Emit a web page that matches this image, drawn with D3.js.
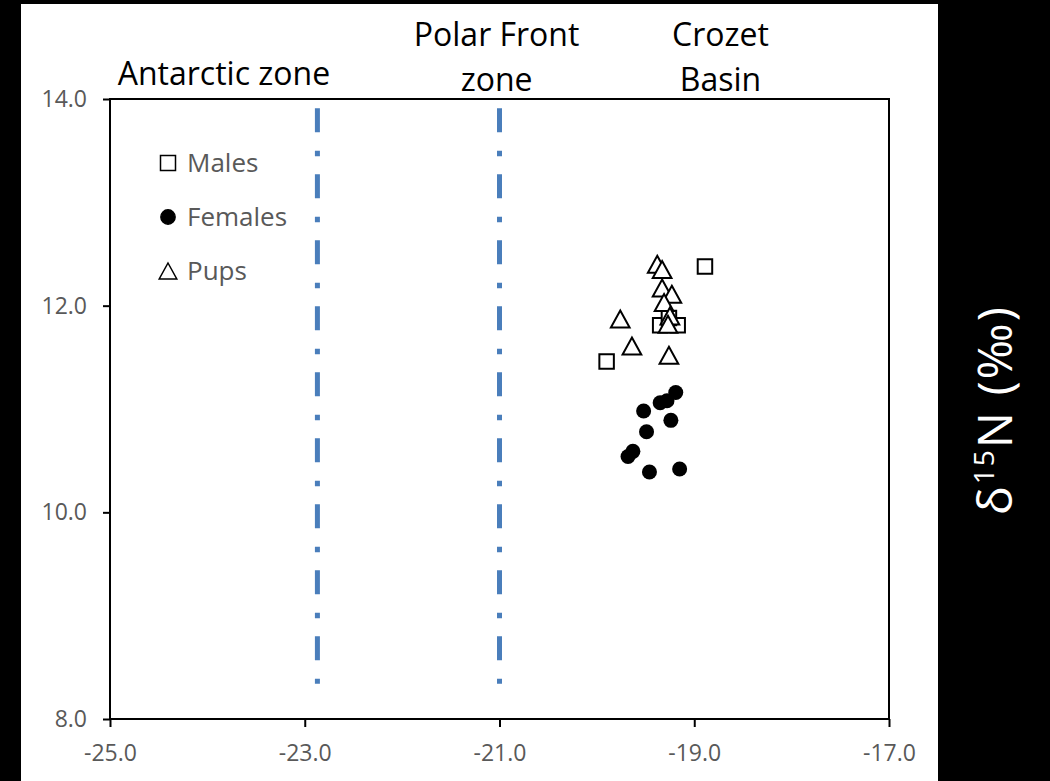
<!DOCTYPE html>
<html>
<head>
<meta charset="utf-8">
<script src="https://cdn.jsdelivr.net/npm/d3@7"></script>
<style>
    body { margin: 0; background: #000; }
    text { font-family: "Open Sans", sans-serif; }
</style>
</head>
<body>
<div id="chart"></div>
<script>

// Tick values
const xTicks = [-25, -23, -21, -19, -17];
const yTicks = [8, 10, 12, 14];

// Males (squares)
const malesX = [-18.89, -19.90, -19.35, -19.17, -19.26];
const malesY = [12.38, 11.46, 11.81, 11.81, 11.88];

// Females (filled circles)
const femalesX = [-19.19, -19.28, -19.35, -19.52, -19.24, -19.49, -19.63, -19.68, -19.46, -19.15];
const femalesY = [11.16, 11.08, 11.06, 10.98, 10.89, 10.78, 10.59, 10.54, 10.39, 10.42];

// Pups (open triangles)
const pupsX = [-19.38, -19.33, -19.33, -19.23, -19.31, -19.25, -19.27, -19.76, -19.64, -19.26];
const pupsY = [12.40, 12.35, 12.17, 12.11, 12.03, 11.90, 11.82, 11.87, 11.61, 11.52];

// Front boundaries (vertical dash-dot lines)
const frontX = [-22.87, -21.0];
const frontY = [8.34, 13.91];

// Zone labels, centred on an x value
const zoneNames = [["Antarctic zone"], ["Polar Front", "zone"], ["Crozet", "Basin"]];
const zoneCenters = [-23.83, -21.03, -18.73];

const legendNames = ["Males", "Females", "Pups"];


// triangle drawn around the centre of its bounding box
const boxTriangle = {
    draw(context, size) {
        let h = Math.sqrt(size);
        let w = h * 0.55;
        context.moveTo(0, -h / 2);
        context.lineTo(w, h / 2);
        context.lineTo(-w, h / 2);
        context.closePath();
    }
};

// excel style labels use a plain hyphen
let fmt = d => d3.format(".1f")(d).replace("\u2212", "-");


class scatterVis {

    constructor(parentElement) {
        this.parentElement = parentElement;
        this.initVis();
    }

    initVis() {
        let vis = this;

        vis.margin = {top: 99, right: 161, bottom: 62, left: 110};
        vis.width = 779;
        vis.height = 620;

        vis.root = d3.select("#" + vis.parentElement).append("svg")
            .attr("width", 1050)
            .attr("height", 781);

        // black page with white card
        vis.root.append("rect")
            .attr("width", 1050).attr("height", 781)
            .attr("fill", "#000");
        vis.root.append("rect")
            .attr("x", 21).attr("y", 4)
            .attr("width", 917).attr("height", 777)
            .attr("fill", "#fff");

        vis.svg = vis.root.append("g")
            .attr("transform", `translate(${vis.margin.left}, ${vis.margin.top})`);

        vis.x = d3.scaleLinear()
            .domain([-25, -17])
            .range([0, vis.width]);

        vis.y = d3.scaleLinear()
            .domain([8, 14])
            .range([vis.height, 0]);

        vis.xAxis = d3.axisBottom(vis.x)
            .tickValues(xTicks)
            .tickSize(8)
            .tickSizeOuter(0)
            .tickPadding(18)
            .tickFormat(fmt);

        vis.yAxis = d3.axisLeft(vis.y)
            .tickValues(yTicks)
            .tickSize(7)
            .tickSizeOuter(0)
            .tickPadding(16)
            .tickFormat(fmt);

        vis.svg.append("g")
            .attr("class", "x-axis axis")
            .attr("transform", "translate(0," + vis.height + ")")
            .call(vis.xAxis);

        vis.svg.append("g")
            .attr("class", "y-axis axis")
            .call(vis.yAxis);

        vis.svg.selectAll(".axis text")
            .attr("fill", "#595959")
            .style("font-size", "23px");
        vis.svg.selectAll(".axis line")
            .attr("stroke", "#000")
            .attr("stroke-width", 2);
        vis.svg.selectAll(".axis .domain").remove();

        // plot frame
        vis.svg.append("rect")
            .attr("width", vis.width)
            .attr("height", vis.height)
            .attr("fill", "none")
            .attr("stroke", "#000")
            .attr("stroke-width", 2);

        this.updateVis();
    }

    updateVis() {
        let vis = this;

        // front lines
        vis.svg.selectAll(".front")
            .data(frontX)
            .enter().append("line")
            .attr("class", "front")
            .attr("x1", d => vis.x(d))
            .attr("x2", d => vis.x(d))
            .attr("y1", vis.y(frontY[1]))
            .attr("y2", vis.y(frontY[0]))
            .attr("stroke", "#4A7EBB")
            .attr("stroke-width", 5)
            .attr("stroke-dasharray", "24,18.5,5.5,18");

        // zone labels above the frame
        let zones = vis.svg.selectAll(".zone")
            .data(zoneNames)
            .enter().append("text")
            .attr("class", "zone")
            .attr("text-anchor", "middle")
            .attr("fill", "#000")
            .style("font-size", "32px");

        zones.selectAll("tspan")
            .data((d, i) => d.map(t => ({t: t, i: i, n: d.length})))
            .enter().append("tspan")
            .attr("x", d => vis.x(zoneCenters[d.i]))
            .attr("y", (d, j) => d.n === 1 ? -14 : -53 + j * 45)
            .text(d => d.t);

        let males = malesX.map((d, i) => ({x: d, y: malesY[i]}));
        let females = femalesX.map((d, i) => ({x: d, y: femalesY[i]}));
        let pups = pupsX.map((d, i) => ({x: d, y: pupsY[i]}));

        vis.svg.selectAll(".male")
            .data(males)
            .enter().append("path")
            .attr("class", "male")
            .attr("transform", d => `translate(${vis.x(d.x)},${vis.y(d.y)})`)
            .attr("d", d3.symbol(d3.symbolSquare, 210))
            .attr("fill", "#fff")
            .attr("stroke", "#000")
            .attr("stroke-width", 2);

        vis.svg.selectAll(".female")
            .data(females)
            .enter().append("circle")
            .attr("class", "female")
            .attr("cx", d => vis.x(d.x))
            .attr("cy", d => vis.y(d.y))
            .attr("r", 7.5)
            .attr("fill", "#000");

        vis.svg.selectAll(".pup")
            .data(pups)
            .enter().append("path")
            .attr("class", "pup")
            .attr("transform", d => `translate(${vis.x(d.x)},${vis.y(d.y)})`)
            .attr("d", d3.symbol(boxTriangle, 289))
            .attr("fill", "#fff")
            .attr("stroke", "#000")
            .attr("stroke-width", 2);

        // legend
        let legend = vis.svg.append("g")
            .attr("transform", "translate(58, 64)");

        let rows = legend.selectAll(".legend-row")
            .data(legendNames)
            .enter().append("g")
            .attr("class", "legend-row")
            .attr("transform", (d, i) => `translate(0, ${i * 54})`);

        rows.append("path")
            .attr("d", (d, i) => i === 0 ? d3.symbol(d3.symbolSquare, 225)()
                : i === 1 ? d3.symbol(d3.symbolCircle, 160)()
                : d3.symbol(boxTriangle, 256)())
            .attr("fill", (d, i) => i === 1 ? "#000" : "#fff")
            .attr("stroke", "#000")
            .attr("stroke-width", 1.5);

        rows.append("text")
            .attr("x", 19)
            .attr("y", 9)
            .attr("fill", "#595959")
            .style("font-size", "26px")
            .text(d => d);

        // y-axis title on the dark strip
        let title = vis.root.append("text")
            .attr("transform", "translate(1012, 410) rotate(-90)")
            .attr("text-anchor", "middle")
            .attr("fill", "#fff")
            .style("font-size", "48px")
            .style("letter-spacing", "2px");
        title.append("tspan").text("δ");
        title.append("tspan").attr("dy", -18).style("font-size", "28px").text("15");
        title.append("tspan").attr("dy", 18).text("N (‰)");
    }
}

new scatterVis("chart");
</script>
</body>
</html>
